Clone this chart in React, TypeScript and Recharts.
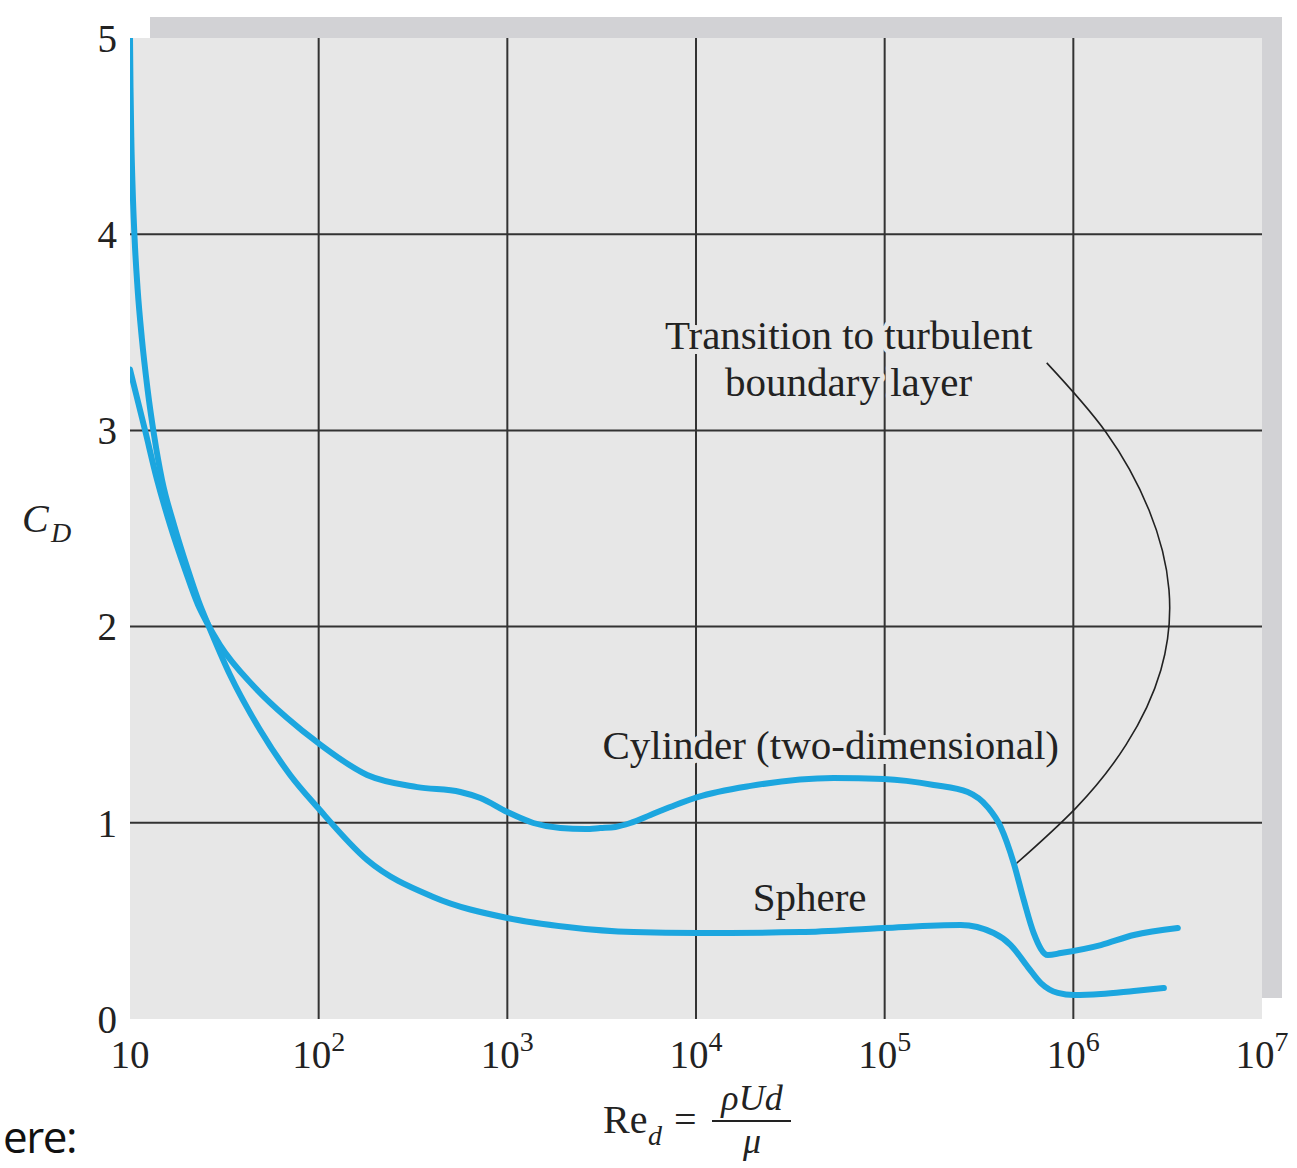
import React from "react";
import { LineChart, Line, XAxis, YAxis, CartesianGrid, ReferenceDot } from "recharts";

// log10(Re_d) and C_D
const cylinderLogRe = [1.0, 1.08, 1.143, 1.212, 1.292, 1.361, 1.408, 1.477, 1.652, 1.833, 1.997, 2.257, 2.523, 2.751, 2.857, 3.0, 3.138, 3.281, 3.414, 3.493, 3.573, 3.652, 3.759, 3.891, 4.008, 4.289, 4.729, 4.995, 5.26, 5.44, 5.546, 5.615, 5.684, 5.737, 5.79, 5.865, 5.934, 6.146, 6.321, 6.554];
const cylinderCd = [3.31, 3.0, 2.75, 2.52, 2.29, 2.11, 2.02, 1.906, 1.7, 1.534, 1.407, 1.244, 1.182, 1.157, 1.126, 1.055, 0.999, 0.973, 0.968, 0.973, 0.979, 0.999, 1.04, 1.091, 1.131, 1.188, 1.228, 1.223, 1.193, 1.157, 1.08, 0.979, 0.795, 0.607, 0.438, 0.326, 0.336, 0.377, 0.428, 0.464];

const sphereLogRe = [1.0, 1.0027, 1.0069, 1.0138, 1.0244, 1.0403, 1.0626, 1.0923, 1.1273, 1.1698, 1.2334, 1.3077, 1.3714, 1.4085, 1.5305, 1.6897, 1.8488, 1.9973, 2.2573, 2.6074, 3.0, 3.318, 3.668, 4.008, 4.554, 4.995, 5.403, 5.578, 5.668, 5.759, 5.828, 5.918, 6.003, 6.146, 6.321, 6.48];
const sphereCd = [5.0, 4.745, 4.49, 4.235, 3.976, 3.721, 3.471, 3.216, 2.977, 2.747, 2.518, 2.288, 2.11, 2.023, 1.753, 1.473, 1.244, 1.075, 0.81, 0.622, 0.515, 0.469, 0.443, 0.438, 0.443, 0.464, 0.479, 0.438, 0.377, 0.265, 0.183, 0.133, 0.122, 0.127, 0.143, 0.158];

// leader curve for the "Transition to turbulent boundary layer" note
const leaderLogRe = [5.859, 6.172, 6.401, 6.507, 6.464, 6.279, 6.013, 5.695];
const leaderCd = [3.344, 2.992, 2.594, 2.187, 1.779, 1.397, 1.075, 0.79];

const xTicks = [1, 2, 3, 4, 5, 6, 7];
const yTicks = [0, 1, 2, 3, 4, 5];
const xGrid = [2, 3, 4, 5, 6];
const yGrid = [1, 2, 3, 4];

const annotations = [
  { text: "Transition to turbulent", logRe: 4.809, cd: 3.486 },
  { text: "boundary layer", logRe: 4.809, cd: 3.247 },
  { text: "Cylinder (two-dimensional)", logRe: 4.714, cd: 1.397 },
  { text: "Sphere", logRe: 4.602, cd: 0.622 },
];

const zip = (xs: number[], ys: number[]) => xs.map((x, i) => ({ logRe: x, cd: ys[i] }));
const cylinderData = zip(cylinderLogRe, cylinderCd);
const sphereData = zip(sphereLogRe, sphereCd);
const leaderData = zip(leaderLogRe, leaderCd);

const SERIF = "'Liberation Serif', 'Times New Roman', serif";
const BLUE = "#1ca6df";
const PLOT_BG = "#e7e7e7";
const TEXT = "#222";

const XTick = (props: any) => {
  const { x, y, payload } = props;
  const n = payload.value;
  return (
    <text x={x} y={y + 49} textAnchor="middle" fontFamily={SERIF} fontSize={39} fill={TEXT}>
      10
      {n > 1 ? (
        <tspan dy={-17} fontSize={28}>
          {n}
        </tspan>
      ) : null}
    </text>
  );
};

const makeNote = (text: string) => (props: any) => {
  const vb = props.viewBox || {};
  return (
    <text
      x={vb.x}
      y={vb.y}
      textAnchor="middle"
      dominantBaseline="central"
      fontFamily={SERIF}
      fontSize={41}
      fill={TEXT}
      stroke={PLOT_BG}
      strokeWidth={10}
      strokeLinejoin="round"
      paintOrder="stroke"
    >
      {text}
    </text>
  );
};

const XLabel = (props: any) => {
  const vb = props.viewBox || { x: 130, y: 1019, width: 1132 };
  const cx = vb.x + vb.width / 2; // ~696
  const top = vb.y; // 1019
  return (
    <g fontFamily={SERIF} fill={TEXT}>
      <text x={cx - 93} y={top + 114} fontSize={40}>Re</text>
      <text x={cx - 48} y={top + 126} fontSize={28} fontStyle="italic">d</text>
      <text x={cx - 22} y={top + 114} fontSize={40}>=</text>
      <line x1={cx + 16} x2={cx + 95} y1={top + 102} y2={top + 102} stroke={TEXT} strokeWidth={2} />
      <text x={cx + 56} y={top + 91} fontSize={36} fontStyle="italic" textAnchor="middle">ρUd</text>
      <text x={cx + 56} y={top + 134} fontSize={36} fontStyle="italic" textAnchor="middle">μ</text>
    </g>
  );
};

const YLabel = (props: any) => {
  const vb = props.viewBox || { x: 70, y: 38, height: 981 };
  const cy = vb.y + vb.height / 2;
  return (
    <g fontFamily={SERIF} fill={TEXT} fontStyle="italic">
      <text x={22} y={cy + 3} fontSize={40}>C</text>
      <text x={51} y={cy + 13} fontSize={28}>D</text>
    </g>
  );
};

export default function App() {
  return (
    <div style={{ position: "absolute", left: 0, top: 0, width: 1297, height: 1168, background: "#fff" }}>
      <div style={{ position: "absolute", left: 150, top: 17, width: 1132, height: 981, background: "#d2d2d5" }} />
      <svg style={{ position: "absolute", left: 0, top: 1095 }} width={120} height={70}>
        <text x={3} y={58} fontFamily="'Open Sans', sans-serif" fontSize={44} letterSpacing={-1.5} fill="#111">
          ere:
        </text>
      </svg>
      <div style={{ position: "absolute", left: 0, top: 0 }}>
        <LineChart width={1297} height={1168} margin={{ top: 38, right: 35, left: 70, bottom: 89 }}>
          <CartesianGrid
            fill={PLOT_BG}
            fillOpacity={1}
            stroke="#333"
            strokeWidth={2}
            verticalValues={xGrid}
            horizontalValues={yGrid}
          />
          <XAxis
            type="number"
            dataKey="logRe"
            domain={[1, 7]}
            ticks={xTicks}
            allowDataOverflow
            axisLine={false}
            tickLine={false}
            tickSize={0}
            tickMargin={0}
            height={60}
            tick={<XTick />}
            interval={0}
            label={<XLabel />}
          />
          <YAxis
            type="number"
            domain={[0, 5]}
            ticks={yTicks}
            allowDataOverflow
            axisLine={false}
            tickLine={false}
            tickSize={0}
            tickMargin={13}
            width={60}
            interval={0}
            tick={{ fontFamily: SERIF, fontSize: 39, fill: TEXT }}
            label={<YLabel />}
          />
          <Line data={leaderData} dataKey="cd" type="natural" stroke="#222" strokeWidth={1.6} dot={false} isAnimationActive={false} />
          {annotations.map((a) => (
            <ReferenceDot key={a.text} x={a.logRe} y={a.cd} r={0} fill="none" stroke="none" label={makeNote(a.text)} />
          ))}
          <Line data={cylinderData} dataKey="cd" type="monotone" stroke={BLUE} strokeWidth={6} dot={false} isAnimationActive={false} strokeLinecap="round" />
          <Line data={sphereData} dataKey="cd" type="monotone" stroke={BLUE} strokeWidth={6} dot={false} isAnimationActive={false} strokeLinecap="round" />
        </LineChart>
      </div>
    </div>
  );
}
